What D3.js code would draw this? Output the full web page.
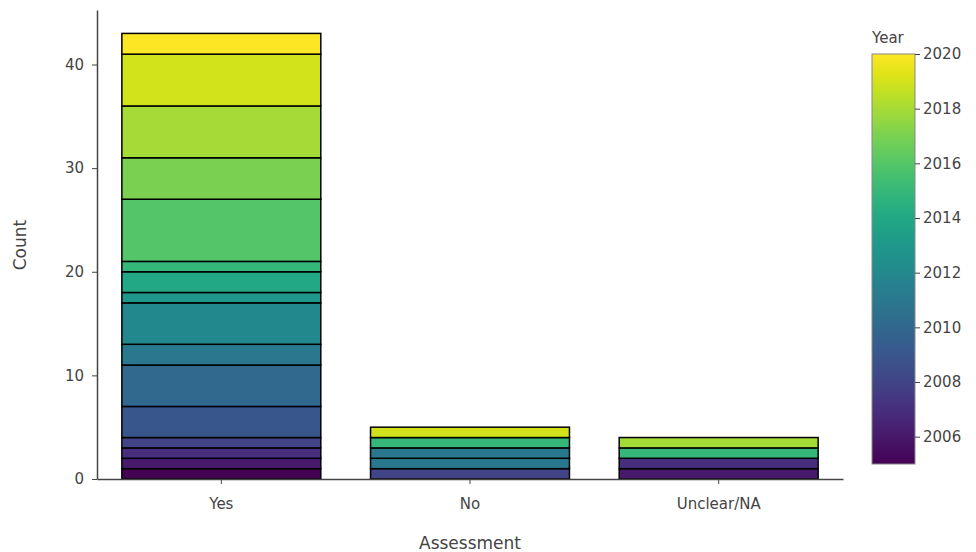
<!DOCTYPE html>
<html><head><meta charset="utf-8">
<script src="https://cdn.jsdelivr.net/npm/d3@7"></script>
<style>body{margin:0;background:#fff}svg{display:block}text{font-family:"DejaVu Sans",Verdana,sans-serif;fill:#444}</style>
</head><body>
<svg id="c" width="976" height="552"></svg>
<script>
const categories = ["Yes", "No", "Unclear/NA"];
// stacked segments per category, bottom to top: [year, count]
const yesSegments = [[2005,1],[2006,1],[2007,1],[2008,1],[2009,3],[2010,4],[2011,2],[2012,4],[2013,1],[2014,2],[2015,1],[2016,6],[2017,4],[2018,5],[2019,5],[2020,2]];
const noSegments = [[2008,1],[2011,1],[2011,1],[2015,1],[2019,1]];
const unclearSegments = [[2006,1],[2007,1],[2015,1],[2018,1]];
const yTicks = [0,10,20,30,40];
const colorTicks = [2006,2008,2010,2012,2014,2016,2018,2020];
const yearDomain = [2005, 2020];

const segs = [yesSegments, noSegments, unclearSegments];
const svg = d3.select("#c");
const m = {l:97, r:843, t:10, b:479};
const x = d3.scaleBand().domain(categories).range([m.l, m.r]).paddingInner(0.2).paddingOuter(0.1);
const yMax = 45.26;
const y = d3.scaleLinear().domain([0, yMax]).range([m.b, m.t]);
const color = d3.scaleSequential(d3.interpolateViridis).domain(yearDomain);

// bars
categories.forEach((cat, i) => {
  let cum = 0;
  const data = segs[i].map(([yr, n]) => { const d = {yr, y0: cum, y1: cum + n}; cum += n; return d; });
  svg.append("g").selectAll("rect").data(data).join("rect")
    .attr("x", x(cat)).attr("width", x.bandwidth())
    .attr("y", d => y(d.y1)).attr("height", d => y(d.y0) - y(d.y1))
    .attr("fill", d => color(d.yr)).attr("stroke", "#000").attr("stroke-width", 1.5);
});

// y axis
const ya = svg.append("g").attr("transform", `translate(${m.l},0)`)
  .call(d3.axisLeft(y).tickValues(yTicks).tickSize(5).tickPadding(8).tickSizeOuter(0));
ya.select(".domain").attr("stroke", "#444").attr("stroke-width", 1.5);
ya.selectAll(".tick line").attr("stroke", "#444");
ya.selectAll("text").attr("font-size", 15).attr("fill", "#444").style("font-family", "DejaVu Sans");

// x axis
const xa = svg.append("g").attr("transform", `translate(0,${m.b})`)
  .call(d3.axisBottom(x).tickSize(5).tickPadding(14).tickSizeOuter(0));
xa.select(".domain").attr("stroke", "#444").attr("stroke-width", 1.5);
xa.selectAll(".tick line").attr("stroke", "#444");
xa.selectAll("text").attr("font-size", 15).attr("fill", "#444").style("font-family", "DejaVu Sans");

svg.append("text").attr("transform", "translate(26,245) rotate(-90)").attr("text-anchor", "middle")
  .attr("font-size", 17).text("Count");
svg.append("text").attr("x", 470).attr("y", 549).attr("text-anchor", "middle")
  .attr("font-size", 17).text("Assessment");

// colorbar
const cb = {x: 872, w: 43, top: 54, bottom: 464};
const cy = d3.scaleLinear().domain(yearDomain).range([cb.bottom, cb.top]);
const defs = svg.append("defs");
const grad = defs.append("linearGradient").attr("id", "vg").attr("x1", 0).attr("y1", 1).attr("x2", 0).attr("y2", 0);
d3.range(0, 1.0001, 0.05).forEach(t => grad.append("stop").attr("offset", t).attr("stop-color", d3.interpolateViridis(t)));
svg.append("rect").attr("x", cb.x).attr("y", cb.top).attr("width", cb.w).attr("height", cb.bottom - cb.top)
  .attr("fill", "url(#vg)").attr("stroke", "#888").attr("stroke-width", 1);
const ca = svg.append("g").attr("transform", `translate(${cb.x + cb.w},0)`)
  .call(d3.axisRight(cy).tickValues(colorTicks).tickFormat(d3.format("d")).tickSize(5).tickPadding(3).tickSizeOuter(0));
ca.select(".domain").remove();
ca.selectAll(".tick line").attr("stroke", "#444");
ca.selectAll("text").attr("font-size", 15).attr("fill", "#444").style("font-family", "DejaVu Sans");
svg.append("text").attr("x", 872).attr("y", 43).attr("font-size", 15).text("Year");
</script>
</body></html>
